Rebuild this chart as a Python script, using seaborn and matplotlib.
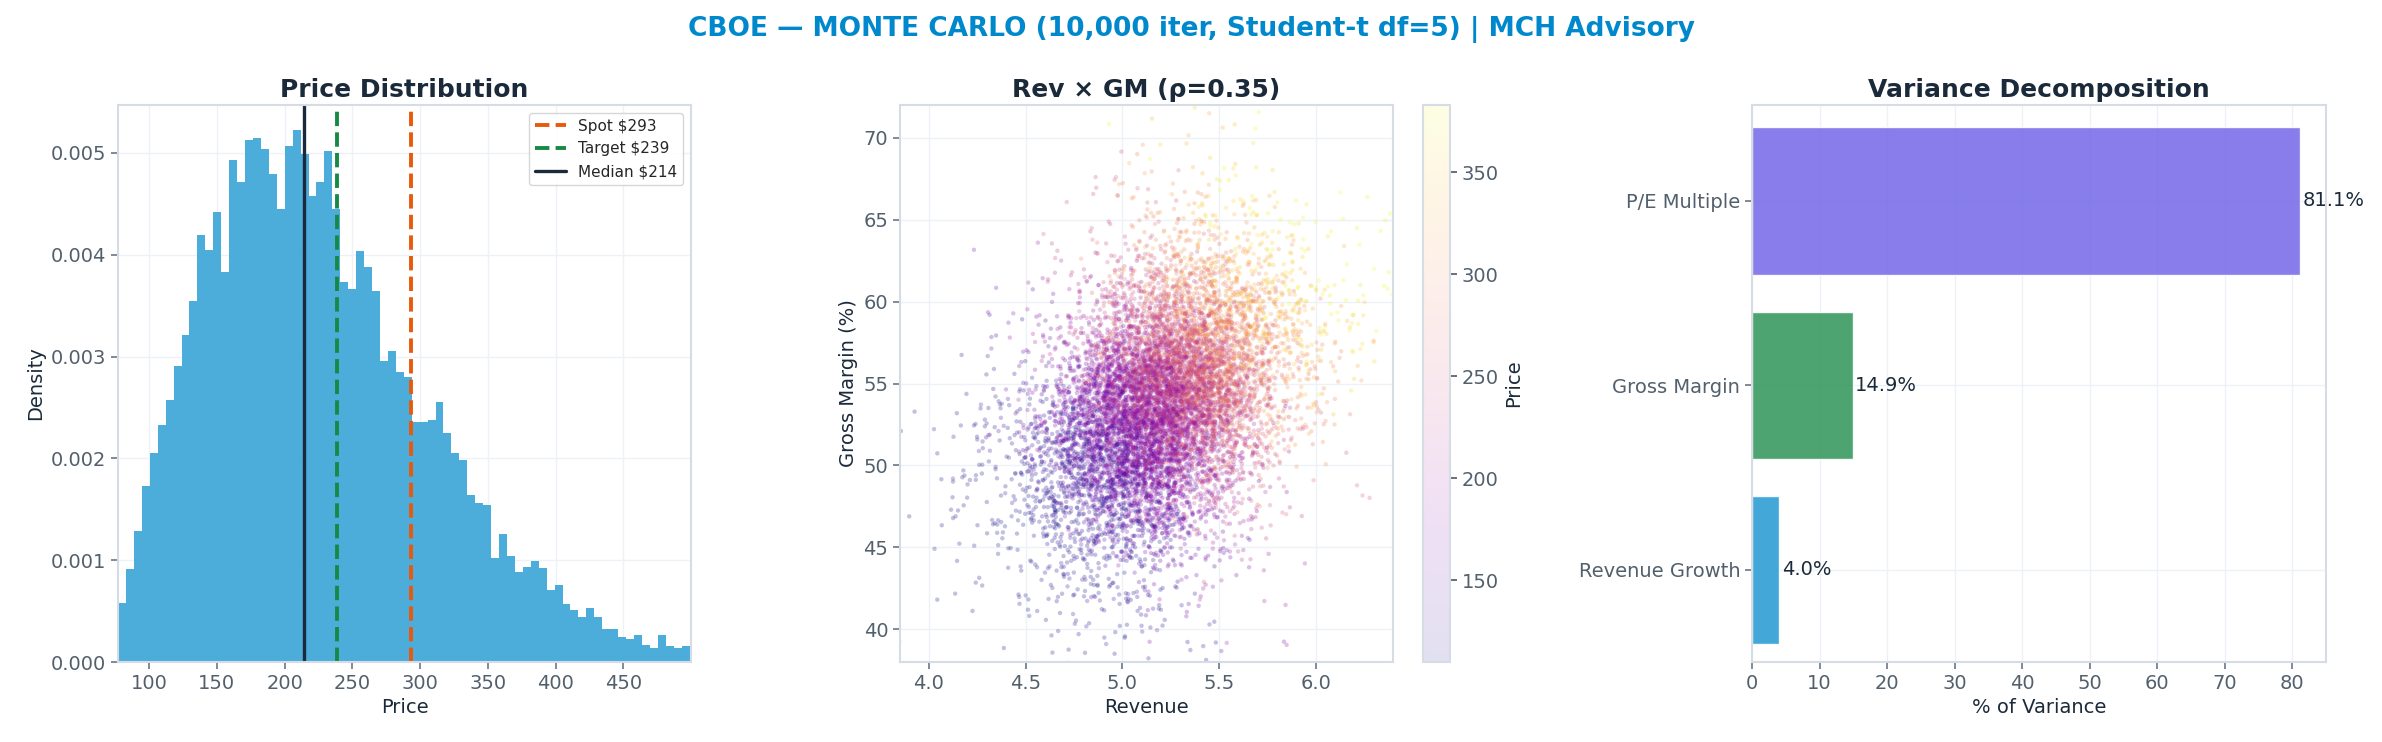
import numpy as np
import pandas as pd
import matplotlib
matplotlib.use("Agg")
import matplotlib.pyplot as plt
import seaborn as sns

# ---- data ----
hist_start = 77.0
bin_width = 5.86
hist_heights = [0.00058, 0.00091, 0.00129, 0.00173, 0.00205,
                0.00233, 0.00257, 0.00291, 0.00321, 0.00355, 0.00419, 0.00405, 0.00442, 0.00383,
                0.00493, 0.00471, 0.00513, 0.00515, 0.00504, 0.00479,
                0.00445, 0.00507, 0.00522, 0.00499, 0.00458, 0.00471, 0.00502, 0.00445, 0.00373,
                0.00366, 0.00404, 0.00388, 0.00364, 0.00296, 0.00305, 0.00285, 0.00280, 0.00236,
                0.00236, 0.00238, 0.00255, 0.00225,
                0.00205, 0.00198, 0.00164, 0.00156, 0.00154, 0.00102, 0.00126, 0.00104, 0.00088,
                0.00093, 0.00099, 0.00092, 0.00071, 0.00076, 0.00057, 0.00051, 0.00044, 0.00053,
                0.00044, 0.00032, 0.00032, 0.00025, 0.00023, 0.00027, 0.00017, 0.00014, 0.00027,
                0.00016, 0.00014, 0.00016, 0.00010]
spot, target, median = 293, 239, 214

var_labels = ["P/E Multiple", "Gross Margin", "Revenue Growth"]
var_values = [81.1, 14.9, 4.0]
var_colors = ["#7B6FE8", "#3A9A60", "#2E9FD4"]

# Monte Carlo cloud (seeded simulation; individual points cannot be read from the image)
rng = np.random.default_rng(5)
n = 10000
z1 = rng.standard_t(10, n)
z2 = 0.35 * z1 + np.sqrt(1 - 0.35**2) * rng.standard_t(10, n)
revenue = 5.2 + 0.3 * z1
gm = 53.8 + 4.2 * z2
pe = rng.normal(0, 1, n)
price = 215 + 110 * (revenue - 5.2) + 7.0 * (gm - 53.8) + 30 * pe
price = np.clip(price, 110, 383)
mc = pd.DataFrame({"Revenue": revenue, "GM": gm, "Price": price})

# ---- style ----
sns.set_theme(style="whitegrid")
plt.rcParams["font.family"] = ["DejaVu Sans"]
tick_c = "#52606D"
edge_c = "#D5DCE6"
title_c = "#1B2A3A"

fig = plt.figure(figsize=(23.82, 7.42), dpi=100)
W, H = 2382, 742
def rect(l, r, t, b):
    return [l / W, 1 - b / H, (r - l) / W, (b - t) / H]

ax1 = fig.add_axes(rect(118, 691, 105, 662))
ax2 = fig.add_axes(rect(900, 1393, 105, 662))
cax = fig.add_axes(rect(1423, 1450, 105, 662))
ax3 = fig.add_axes(rect(1752, 2326, 105, 662))

for ax in (ax1, ax2, ax3):
    ax.set_facecolor("white")
    for s in ax.spines.values():
        s.set_color(edge_c)
        s.set_linewidth(1.5)
    ax.grid(True, color="#EEF1F5", linewidth=1)
    ax.tick_params(colors=tick_c, labelsize=14, length=5, width=1.2, left=True, bottom=True)
    ax.tick_params(axis="both", color="#6B7785")

# ---- histogram ----
edges = [hist_start + bin_width * i for i in range(len(hist_heights) + 1)]
centers = [(edges[i] + edges[i + 1]) / 2 for i in range(len(hist_heights))]
hd = pd.DataFrame({"Price": centers, "w": hist_heights})
sns.histplot(data=hd, x="Price", weights="w", bins=edges, stat="count",
             color="#2E9FD4", alpha=0.85, edgecolor="none", ax=ax1)
ax1.axvline(spot, color="#E8590C", ls="--", lw=2.8, label=f"Spot ${spot}")
ax1.axvline(target, color="#168A45", ls="--", lw=2.8, label=f"Target ${target}")
ax1.axvline(median, color="#1B2A3A", ls="-", lw=2.4, label=f"Median ${median}")
ax1.set_xlim(77, 500)
ax1.set_ylim(0, 0.00547)
ax1.set_xticks([100, 150, 200, 250, 300, 350, 400, 450])
ax1.set_yticks([0, 0.001, 0.002, 0.003, 0.004, 0.005])
ax1.set_yticklabels([f"{v:.3f}" for v in [0, 0.001, 0.002, 0.003, 0.004, 0.005]])
ax1.set_xlabel("Price", fontsize=14, color="#1B2A3A")
ax1.set_ylabel("Density", fontsize=14, color="#1B2A3A")
ax1.set_title("Price Distribution", fontsize=18, fontweight="bold", color=title_c)
leg = ax1.legend(loc="upper right", fontsize=11, frameon=True)
leg.get_frame().set_edgecolor("#CCCCCC")

# ---- scatter ----
norm = plt.Normalize(110, 383)
sc = ax2.scatter(mc["Revenue"], mc["GM"], c=mc["Price"], cmap="plasma", norm=norm,
                 s=10, alpha=0.25, linewidths=0)
ax2.set_xlim(3.85, 6.4)
ax2.set_ylim(38, 72)
ax2.set_xticks([4.0, 4.5, 5.0, 5.5, 6.0])
ax2.set_yticks([40, 45, 50, 55, 60, 65, 70])
ax2.set_xlabel("Revenue", fontsize=14, color="#1B2A3A")
ax2.set_ylabel("Gross Margin (%)", fontsize=14, color="#1B2A3A")
ax2.set_title("Rev × GM (ρ=0.35)", fontsize=18, fontweight="bold", color=title_c)
cb = fig.colorbar(sc, cax=cax)
cb.solids.set_alpha(0.12)
cax.grid(False)
cb.outline.set_edgecolor(edge_c)
cb.outline.set_linewidth(1.5)
cb.set_ticks([150, 200, 250, 300, 350])
cax.tick_params(colors=tick_c, labelsize=14, length=5)
cb.set_label("Price", fontsize=14, color="#1B2A3A")

# ---- variance decomposition ----
vd = pd.DataFrame({"Factor": var_labels, "Pct": var_values})
sns.barplot(data=vd, y="Factor", x="Pct", hue="Factor", palette=var_colors,
            legend=False, orient="h", width=0.8, saturation=1, ax=ax3)
for p in ax3.patches:
    p.set_alpha(0.9)
for i, v in enumerate(var_values):
    ax3.text(v + 0.4, i, f"{v:.1f}%", va="center", ha="left", fontsize=14, color="#1B2A3A")
ax3.set_xlim(0, 85)
ax3.set_ylim(2.5, -0.52)
ax3.set_xticks([0, 10, 20, 30, 40, 50, 60, 70, 80])
ax3.set_xlabel("% of Variance", fontsize=14, color="#1B2A3A")
ax3.set_ylabel("")
ax3.set_title("Variance Decomposition", fontsize=18, fontweight="bold", color=title_c)
ax3.grid(True, axis="both", color="#EEF1F5")

fig.suptitle("CBOE — MONTE CARLO (10,000 iter, Student-t df=5) | MCH Advisory",
             fontsize=19, fontweight="bold", color="#0088CC", y=0.978)
fig.savefig("out.png", dpi=100, facecolor="white")
